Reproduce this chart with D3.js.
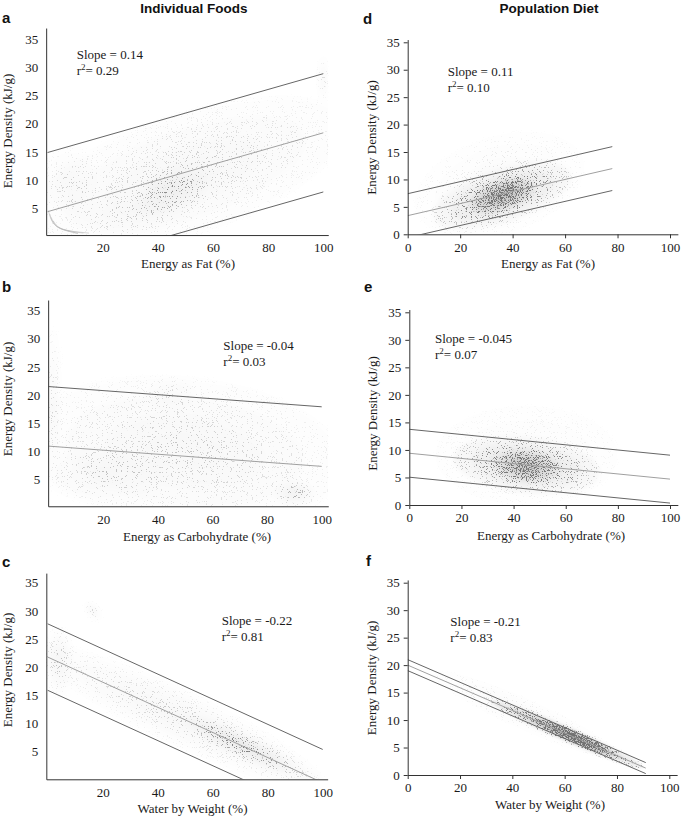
<!DOCTYPE html>
<meta charset="utf-8">
<style>
body { margin: 0; background: #fff; }
svg text { font-family: "Liberation Serif", "Times New Roman", "DejaVu Serif", serif; font-size: 13px; fill: #1a1a1a; }
svg text.title { font-family: "Liberation Sans", Arial, sans-serif; font-weight: bold; font-size: 13.5px; fill: #111; }
svg text.letter { font-family: "Liberation Sans", Arial, sans-serif; font-weight: bold; font-size: 15px; fill: #111; }
.axis path, .axis line { stroke: #333; stroke-width: 1px; }
.fit { fill: none; stroke-width: 1px; }
.zero { fill: none; stroke: #b4b4b4; stroke-width: .5px; }
</style>
<body>
<script src="https://cdn.jsdelivr.net/npm/d3@7"></script>
<script>

var width = 685,
    height = 816;

// ---- data ----
var panelLetters = ["a", "b", "c", "d", "e", "f"];
var columnTitles = ["Individual Foods", "Population Diet"];
var xTitles = ["Energy as Fat (%)", "Energy as Carbohydrate (%)", "Water by Weight (%)",
               "Energy as Fat (%)", "Energy as Carbohydrate (%)", "Water by Weight (%)"];
var yTitle = "Energy Density (kJ/g)";
var slopeLabels = ["0.14", "-0.04", "-0.22", "0.11", "-0.045", "-0.21"];
var r2Labels = ["0.29", "0.03", "0.81", "0.10", "0.07", "0.83"];

// fitted line: intercept + slope * x, drawn with the band offsets
var fitIntercepts = [4.4, 10.9, 21.8, 3.4, 9.4, 20.0];
var fitSlopes = [0.14, -0.036, -0.223, 0.11, -0.047, -0.206];
var bandOffsets = [[-10.5, 0, 10.5], [0, 10.6], [-5.9, 0, 5.9], [-4, 0, 4], [-4.35, 0, 4.35], [-1, 0, 1]];
var fitXEnd = [100, 100, 100, 78, 100, 91];

var foodXTicks = [20, 40, 60, 80, 100];
var foodYTicks = [5, 10, 15, 20, 25, 30, 35];
var dietXTicks = [0, 20, 40, 60, 80, 100];
var dietYTicks = [0, 5, 10, 15, 20, 25, 30, 35];

// point clouds as density blobs: [centre x, centre y, half width x, half height y, tilt, density]
var cloudA = [[50, 11, 58, 11, 0.14, 0.1], [45, 8, 14, 4, 0.14, 0.12], [8, 10, 10, 6, 0, 0.06],
              [100, 28, 1.2, 4, 0, 0.12], [30, 4, 20, 3, 0, 0.04]];
var cloudB = [[50, 10, 58, 13, -0.04, 0.09], [20, 6, 22, 5, 0, 0.06], [90, 2.5, 7, 2, 0, 0.14],
              [1.5, 20, 2.5, 12, 0, 0.08], [45, 20, 10, 3, 0, 0.05]];
var cloudC = [[48, 11.1, 52, 5, -0.223, 0.1], [72, 5.8, 22, 2.2, -0.223, 0.2], [4, 21, 5, 6, 0, 0.1],
              [16.5, 30, 2.5, 1, -0.4, 0.14]];
var cloudD = [[36, 7, 26, 5, 0.13, 0.32], [36, 7, 12, 2.8, 0.13, 0.62], [35, 9, 32, 9, 0.1, 0.07]];
var cloudE = [[45, 7.2, 28, 5, -0.045, 0.32], [45, 7, 12, 2.8, -0.045, 0.52], [45, 9, 35, 9, 0, 0.05]];
var cloudF = [[61, 7.4, 29, 1.5, -0.206, 0.75], [64, 6.8, 15, 1.1, -0.206, 1], [45, 11, 35, 3, -0.206, 0.07]];
var clouds = [cloudA, cloudB, cloudC, cloudD, cloudE, cloudF];

// curved streaks of foods with almost no fat (panel a, lower left)
var zeroFatCurves = [
  [[0.3, 4.6], [1, 3.4], [2, 2.5], [4, 1.6], [7, 1.1], [11, 0.8], [15, 0.6]],
  [[0.8, 4.0], [1.6, 2.8], [3, 1.9], [5.5, 1.3], [9, 0.9], [13, 0.6]],
  [[1.3, 3.4], [2.3, 2.4], [4, 1.6], [7, 1.0], [11, 0.6]],
  [[2, 2.8], [3.2, 2.0], [5, 1.4], [8, 0.9], [11, 0.5]]
];

// ---- layout (pixel calibration of every panel) ----
var layout = [
  {x: [20, 102.7, 100, 323.3], y: [5, 208.3, 35, 39.3], xExt: [-0.5, 101.8], yExt: [0.25, 37],
   xt: [188, 268], yt: [11.5, 131], note: [76.7, 59], letter: [2, 23], blur: 3},
  {x: [20, 103.3, 100, 321.7], y: [5, 479.3, 35, 310.7], xExt: [-0.2, 102.4], yExt: [0.2, 36.9],
   xt: [197, 541], yt: [11.5, 399], note: [223.3, 350], letter: [2, 292], blur: 3},
  {x: [20, 102.7, 100, 322.7], y: [5, 751.7, 35, 582.7], xExt: [-0.5, 101.8], yExt: [0.1, 36.7],
   xt: [192.5, 812.5], yt: [11.5, 670], note: [221.7, 625], letter: [2, 567], blur: 3},
  {x: [0, 407.7, 100, 670], y: [0, 234.3, 35, 42.3], xExt: [0, 103], yExt: [0, 35.5],
   xt: [548, 268], yt: [376, 137.5], note: [447.7, 76], letter: [363, 24], blur: 2.5},
  {x: [0, 409.3, 100, 670], y: [0, 505, 35, 312.3], xExt: [0, 103], yExt: [0, 35.5],
   xt: [551, 540], yt: [376.5, 413.5], note: [435, 343], letter: [364, 292], blur: 2.5},
  {x: [0, 407.7, 100, 669.3], y: [0, 775, 35, 582.7], xExt: [0, 103], yExt: [0, 35.5],
   xt: [550, 809], yt: [376, 678], note: [450.3, 626], letter: [366, 566], blur: 1.2}
];
var titlePos = [[193.8, 12.5], [549, 12.5]];

var svg = d3.select("body").append("svg")
    .attr("width", width)
    .attr("height", height);

var defs = svg.append("defs");

svg.selectAll(".title")
    .data(columnTitles)
  .enter().append("text")
    .attr("class", "title")
    .attr("x", function(d, i) { return titlePos[i][0]; })
    .attr("y", function(d, i) { return titlePos[i][1]; })
    .attr("text-anchor", "middle")
    .text(function(d) { return d; });

function calib(c, ext) {
  var s = d3.scaleLinear().domain([c[0], c[2]]).range([c[1], c[3]]);
  return d3.scaleLinear().domain(ext).range([s(ext[0]), s(ext[1])]);
}

function blobPath(b, s, xs, ys) {
  var pts = d3.range(60).map(function(k) {
    var t = k / 60 * 2 * Math.PI,
        dx = b[2] * s * Math.cos(t),
        dy = b[3] * s * Math.sin(t);
    return [xs(b[0] + dx), ys(b[1] + b[4] * dx + dy)];
  });
  return d3.line().curve(d3.curveLinearClosed)(pts);
}

// blurred density shown as fine grey speckle (noise threshold) over a faint wash
function stippleFilter(id, blur, seed) {
  var f = defs.append("filter").attr("id", id)
      .attr("x", "-20%").attr("y", "-20%").attr("width", "140%").attr("height", "140%")
      .attr("color-interpolation-filters", "sRGB");
  f.append("feGaussianBlur").attr("in", "SourceGraphic").attr("stdDeviation", blur).attr("result", "soft");
  f.append("feTurbulence").attr("type", "fractalNoise").attr("baseFrequency", 1.2)
      .attr("numOctaves", 1).attr("seed", seed).attr("result", "noise");
  f.append("feColorMatrix").attr("in", "noise").attr("type", "matrix")
      .attr("values", "0 0 0 0 0  0 0 0 0 0  0 0 0 0 0  3 0 0 0 -1").attr("result", "thr");
  f.append("feComposite").attr("in", "soft").attr("in2", "thr").attr("operator", "arithmetic")
      .attr("k1", 0).attr("k2", 5).attr("k3", -5).attr("k4", 0).attr("result", "dots");
  f.append("feColorMatrix").attr("in", "dots").attr("type", "matrix")
      .attr("values", "0 0 0 0 0.36  0 0 0 0 0.36  0 0 0 0 0.36  0 0 0 0.78 0").attr("result", "grey");
  f.append("feColorMatrix").attr("in", "soft").attr("type", "matrix")
      .attr("values", "0 0 0 0 0  0 0 0 0 0  0 0 0 0 0  0 0 0 0.35 0").attr("result", "wash");
  var m = f.append("feMerge");
  m.append("feMergeNode").attr("in", "wash");
  m.append("feMergeNode").attr("in", "grey");
}

panelLetters.forEach(function(letter, i) {
  var L = layout[i],
      food = i < 3,
      xs = calib(L.x, L.xExt),
      ys = calib(L.y, L.yExt);

  var g = svg.append("g").attr("class", "panel");

  defs.append("clipPath").attr("id", "clip" + i)
    .append("rect")
      .attr("x", xs(L.xExt[0]))
      .attr("y", ys(L.yExt[1]))
      .attr("width", xs(L.xExt[1]) - xs(L.xExt[0]))
      .attr("height", ys(Math.max(0, L.yExt[0])) - ys(L.yExt[1]));

  stippleFilter("stip" + i, L.blur, i + 3);

  // scatter cloud
  var cg = g.append("g").attr("clip-path", "url(#clip" + i + ")")
    .append("g").attr("filter", "url(#stip" + i + ")");
  clouds[i].forEach(function(b) {
    [1, 0.75, 0.5, 0.25].forEach(function(s) {
      cg.append("path")
          .attr("d", blobPath(b, s, xs, ys))
          .attr("fill", "#000")
          .attr("fill-opacity", b[5] / 4);
    });
  });

  if (i === 0) {
    g.append("g").attr("clip-path", "url(#clip0)")
      .selectAll(".zero")
        .data(zeroFatCurves)
      .enter().append("path")
        .attr("class", "zero")
        .attr("d", d3.line().curve(d3.curveMonotoneX)
            .x(function(d) { return xs(d[0]); })
            .y(function(d) { return ys(d[1]); }));
  }

  // fitted line and band
  var lineX = [0, fitXEnd[i]];
  g.append("g").attr("clip-path", "url(#clip" + i + ")")
    .selectAll(".fit")
      .data(bandOffsets[i])
    .enter().append("path")
      .attr("class", "fit")
      .attr("stroke", function(d) { return d === 0 ? "#a0a0a0" : "#666"; })
      .attr("d", function(off) {
        return d3.line()(lineX.map(function(x) {
          return [xs(x), ys(fitIntercepts[i] + fitSlopes[i] * x + off)];
        }));
      });

  // axes
  var yAxis = d3.axisLeft(ys).tickValues(food ? foodYTicks : dietYTicks),
      xAxis = d3.axisBottom(xs).tickValues(food ? foodXTicks : dietXTicks);
  if (food) {
    yAxis.tickSize(0).tickPadding(8);
    xAxis.tickSize(0).tickPadding(8.2);
  } else {
    yAxis.tickSizeInner(4).tickSizeOuter(0).tickPadding(4);
    xAxis.tickSizeInner(4).tickSizeOuter(0).tickPadding(4.2);
  }

  g.append("g")
      .attr("class", "axis")
      .attr("transform", "translate(" + xs(L.xExt[0]) + ",0)")
      .call(yAxis)
      .attr("font-family", null).attr("font-size", null);

  g.append("g")
      .attr("class", "axis")
      .attr("transform", "translate(0," + ys(L.yExt[0]) + ")")
      .call(xAxis)
      .attr("font-family", null).attr("font-size", null);

  // labels
  g.append("text")
      .attr("x", L.xt[0]).attr("y", L.xt[1])
      .attr("text-anchor", "middle")
      .text(xTitles[i]);

  g.append("text")
      .attr("transform", "translate(" + L.yt[0] + "," + L.yt[1] + ") rotate(-90)")
      .attr("text-anchor", "middle")
      .text(yTitle);

  g.append("text")
      .attr("x", L.note[0]).attr("y", L.note[1])
      .text("Slope = " + slopeLabels[i]);

  var r2 = g.append("text")
      .attr("x", L.note[0]).attr("y", L.note[1] + 16);
  r2.append("tspan").text("r");
  r2.append("tspan").attr("dy", -5).style("font-size", "9px").text("2");
  r2.append("tspan").attr("dy", 5).text("= " + r2Labels[i]);

  g.append("text")
      .attr("class", "letter")
      .attr("x", L.letter[0]).attr("y", L.letter[1])
      .text(letter);
});

</script>
